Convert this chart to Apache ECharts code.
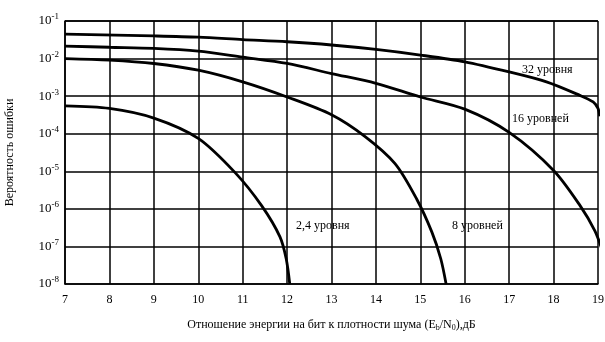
<!DOCTYPE html>
<html>
<head>
<meta charset="utf-8">
<script src="https://cdn.jsdelivr.net/npm/echarts@6/dist/echarts.min.js"></script>
<style>
  html, body { margin: 0; padding: 0; background: #fff; }
  #chart { width: 605px; height: 342px; }
</style>
</head>
<body>
<div id="chart"></div>
<script>
// Bit error probability vs Eb/N0 (dB) for M-ary signalling
var xTicks = [7, 8, 9, 10, 11, 12, 13, 14, 15, 16, 17, 18, 19];
var yExponents = [-1, -2, -3, -4, -5, -6, -7, -8];

var snr32 = [7, 9, 10, 11, 12, 13, 14, 15, 16, 17, 17.84, 18.59, 18.89, 19.0, 19.04];
var ber32 = [4.5e-2, 4.0e-2, 3.7e-2, 3.2e-2, 2.8e-2, 2.3e-2, 1.75e-2, 1.24e-2, 8.2e-3, 4.4e-3, 2.4e-3, 1.05e-3, 7.0e-4, 4.7e-4, 2.9e-4];

var snr16 = [7, 8, 9, 10, 11, 12, 13, 14, 15, 16, 17, 18, 18.6, 18.93, 19.1];
var ber16 = [2.15e-2, 2.0e-2, 1.87e-2, 1.58e-2, 1.09e-2, 7.4e-3, 4.0e-3, 2.2e-3, 9.5e-4, 4.5e-4, 1.08e-4, 1.05e-5, 1.2e-6, 2.6e-7, 7.6e-8];

var snr8 = [7, 8, 9, 10, 11, 12, 13, 13.75, 14.43, 14.92, 15.26, 15.46, 15.58];
var ber8 = [1.0e-2, 9.1e-3, 7.4e-3, 4.9e-3, 2.4e-3, 9.5e-4, 3.2e-4, 8.5e-5, 1.6e-5, 1.8e-6, 2.4e-7, 4.7e-8, 1.0e-8];

var snr24 = [7, 8, 9, 10, 10.83, 11.43, 11.84, 11.98, 12.06];
var ber24 = [5.5e-4, 4.7e-4, 2.6e-4, 7.5e-5, 9.2e-6, 1.2e-6, 1.8e-7, 4.7e-8, 1.0e-8];

var curveLabels = ['32 уровня', '16 уровней', '8 уровней', '2,4 уровня'];

function pairs(xs, ys) {
  return xs.map(function (x, i) { return [x, ys[i]]; });
}

var serif = '"Liberation Serif", "DejaVu Serif", serif';

function curve(name, xs, ys) {
  return {
    name: name,
    type: 'line',
    data: pairs(xs, ys),
    showSymbol: false,
    smooth: 0.3,
    clip: false,
    lineStyle: { color: '#000', width: 2.8 },
    z: 5
  };
}

var chart = echarts.init(document.getElementById('chart'), null, { renderer: 'canvas' });
chart.setOption({
  backgroundColor: '#fff',
  animation: false,
  grid: { left: 65, right: 7, top: 21, bottom: 58, containLabel: false, outerBoundsMode: 'none' },
  xAxis: {
    type: 'value',
    min: xTicks[0],
    max: xTicks[xTicks.length - 1],
    interval: 1,
    axisLine: { show: true, lineStyle: { color: '#000', width: 1.5 } },
    axisTick: { show: false },
    splitLine: { show: true, lineStyle: { color: '#000', width: 1.5 } },
    axisLabel: { color: '#000', fontFamily: serif, fontSize: 12, margin: 10 },
    name: '{t|Отношение энергии на бит к плотности шума (E}{s|b}{t|/N}{s|0}{t|),дБ}',
    nameLocation: 'middle',
    nameGap: 34,
    nameTextStyle: {
      rich: {
        t: { fontFamily: serif, fontSize: 12, color: '#000' },
        s: { fontFamily: serif, fontSize: 8, color: '#000', padding: [6, 0, 0, 0] }
      }
    }
  },
  yAxis: {
    type: 'log',
    logBase: 10,
    min: Math.pow(10, yExponents[yExponents.length - 1]),
    max: Math.pow(10, yExponents[0]),
    axisLine: { show: true, lineStyle: { color: '#000', width: 1.5 } },
    axisTick: { show: false },
    splitLine: { show: true, lineStyle: { color: '#000', width: 1.5 } },
    axisLabel: {
      margin: 6,
      formatter: function (v) {
        var e = Math.round(Math.log(v) / Math.LN10);
        return '{b|10}{e|' + e + '}';
      },
      rich: {
        b: { fontFamily: serif, fontSize: 13, color: '#000' },
        e: { fontFamily: serif, fontSize: 9, color: '#000', padding: [0, 0, 8, 0] }
      }
    },
    name: 'Вероятность ошибки',
    nameLocation: 'middle',
    nameGap: 49,
    nameTextStyle: { fontFamily: serif, fontSize: 12, color: '#000' }
  },
  series: [
    curve(curveLabels[0], snr32, ber32),
    curve(curveLabels[1], snr16, ber16),
    curve(curveLabels[2], snr8, ber8),
    curve(curveLabels[3], snr24, ber24)
  ],
  graphic: [
    { type: 'text', left: 522, top: 64, style: { text: curveLabels[0], font: '12px ' + serif, fill: '#000' }, z: 10 },
    { type: 'text', left: 512, top: 113, style: { text: curveLabels[1], font: '12px ' + serif, fill: '#000' }, z: 10 },
    { type: 'text', left: 452, top: 220, style: { text: curveLabels[2], font: '12px ' + serif, fill: '#000' }, z: 10 },
    { type: 'text', left: 296, top: 220, style: { text: curveLabels[3], font: '12px ' + serif, fill: '#000' }, z: 10 }
  ]
});
</script>
</body>
</html>
